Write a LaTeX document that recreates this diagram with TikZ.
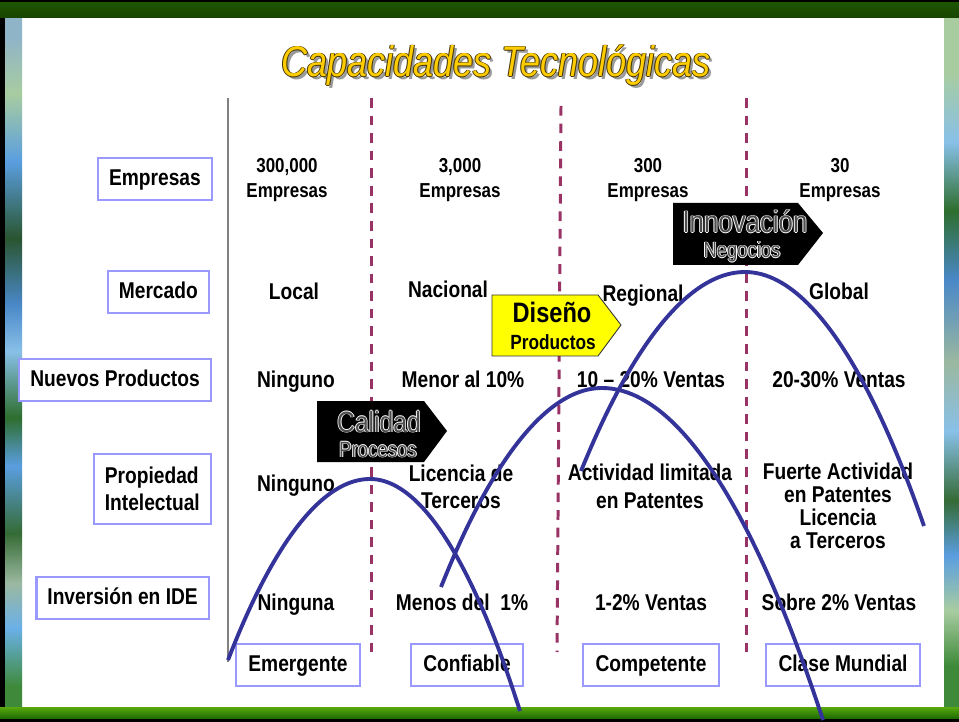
\documentclass[tikz,border=0pt]{standalone}
\usepackage{fontspec}
\setmainfont{Liberation Sans}[FakeStretch=0.84]

\definecolor{curveblue}{HTML}{333399}
\definecolor{dashmaroon}{HTML}{993366}
\definecolor{boxlav}{HTML}{9999FF}
\definecolor{titlegold}{HTML}{FFCC00}
\definecolor{titleshadow}{HTML}{9A9A9A}
\definecolor{tagyellow}{HTML}{FFFF00}
\definecolor{taginner}{HTML}{4D4D4D}
\definecolor{bandgreen}{HTML}{45A010}
\definecolor{banddark}{HTML}{1E5600}
% photo colours
\definecolor{photoA}{HTML}{3E8A3A}
\definecolor{photoB}{HTML}{6AB0E8}
\definecolor{photoC}{HTML}{9BB8A0}
\definecolor{photoD}{HTML}{356B35}
\definecolor{photoE}{HTML}{5A9EE0}
\definecolor{photoF}{HTML}{2E6E2E}
\definecolor{photoG}{HTML}{88C0E8}
\definecolor{photoH}{HTML}{4A88C8}
\definecolor{photoI}{HTML}{2A5530}
\definecolor{photoJ}{HTML}{A8CCA0}
\definecolor{photoK}{HTML}{8FB4C8}

% photo strips at the left and right edge of the slide
\pgfdeclareverticalshading{leftphoto}{100bp}{%
  color(0bp)=(photoA); color(26.5bp)=(photoA); color(30.7bp)=(photoB);
  color(34bp)=(photoC); color(37.6bp)=(photoD); color(42.5bp)=(photoE);
  color(46bp)=(photoF); color(50.8bp)=(photoG); color(54.2bp)=(photoH);
  color(59bp)=(photoI); color(64.6bp)=(photoE); color(69.5bp)=(photoJ);
  color(73.6bp)=(photoK); color(100bp)=(photoK)}
\pgfdeclareverticalshading{rightphoto}{100bp}{%
  color(0bp)=(photoA); color(28bp)=(photoA); color(32bp)=(photoJ);
  color(36bp)=(photoE); color(40bp)=(photoD); color(45bp)=(photoG);
  color(50bp)=(photoC); color(56bp)=(photoH); color(61bp)=(photoF);
  color(66bp)=(photoG); color(71bp)=(photoJ); color(100bp)=(photoJ)}

% text with a thin outline: #1 outline, #2 fill, #3 text
\newcommand{\outlinetext}[3]{\leavevmode
  \rlap{\kern-.5pt\textcolor{#1}{#3}}%
  \rlap{\kern.5pt\textcolor{#1}{#3}}%
  \rlap{\raisebox{.5pt}{\textcolor{#1}{#3}}}%
  \rlap{\raisebox{-.5pt}{\textcolor{#1}{#3}}}%
  \textcolor{#2}{#3}}
% same, with a grey drop shadow
\newcommand{\shadowtext}[3]{\leavevmode
  \rlap{\raisebox{-1.6pt}{\kern1.6pt\textcolor{titleshadow}{#3}}}%
  \outlinetext{#1}{#2}{#3}}

\tikzset{
  labelbox/.style={draw=boxlav, line width=1.4pt, fill=white,
    font=\fontsize{13}{15.3}\selectfont\bfseries, inner xsep=0.22cm,
    minimum height=0.84cm, anchor=east},
  rowlabel/.style={labelbox, text height=0.8em, text depth=0.08em},
  levelbox/.style={rowlabel, anchor=center, inner xsep=0.25cm},
  cell/.style={font=\fontsize{13}{15.3}\selectfont\bfseries, anchor=base,
    align=center, inner sep=0pt},
  firms/.style={cell, font=\fontsize{11.5}{14.7}\selectfont\bfseries},
  divider/.style={dashmaroon, line width=1.7pt, dash pattern=on 5.5pt off 4.5pt},
  capcurve/.style={curveblue, line width=2.2pt},
  tagtext/.style={anchor=base, inner sep=0pt},
}

\begin{document}
\begin{tikzpicture}[x=0.02cm, y=-0.02cm]
  \useasboundingbox (0,0) rectangle (959,722);

  % Slide frame
  \fill[white] (0,0) rectangle (959,722);
  \shade[shading=leftphoto] (5,18) rectangle (22,707);
  \shade[shading=rightphoto] (944,18) rectangle (959,707);
  \fill[black] (0,0) rectangle (5,722);
  \shade[top color=banddark, middle color=bandgreen, bottom color=banddark!80!black]
    (0,2) rectangle (959,18);
  \fill[black] (0,0) rectangle (959,2);
  \shade[top color=bandgreen!90!yellow, bottom color=banddark!90!green]
    (0,707) rectangle (959,719);
  \fill[black] (0,719) rectangle (959,722);

  % Title
  \node[tagtext, font=\fontsize{24.4}{28}\selectfont\itshape] (title) at (496,77)
    {\shadowtext{black!75!titlegold}{titlegold}{Capacidades Tecnológicas}};

  % Column dividers
  \draw[gray, line width=0.8pt] (228,98) -- (228,662);
  \draw[divider] (371,98) -- (371,652);
  \draw[divider] (561,106) -- (557,652);
  \draw[divider] (746,98) -- (746,656);

  % Row labels
  \node[rowlabel] (empresas) at (213,179) {Empresas};
  \node[rowlabel] (mercado) at (210,292) {Mercado};
  \node[rowlabel] (nuevos) at (212,380) {Nuevos Productos};
  \node[labelbox, align=left, minimum height=1.4cm] (propiedad) at (212,489)
    {Propiedad\\Intelectual};
  \node[rowlabel] (inversion) at (210,598) {Inversión en IDE};

  % Row: Empresas
  \node[firms] (emp1) at (287,198) {300,000\\Empresas};
  \node[firms] (emp2) at (460,198) {3,000\\Empresas};
  \node[firms] (emp3) at (648,198) {300\\Empresas};
  \node[firms] (emp4) at (840,198) {30\\Empresas};

  % Row: Mercado
  \node[cell] (mer1) at (294,300) {Local};
  \node[cell] (mer2) at (448,298) {Nacional};
  \node[cell] (mer3) at (643,302) {Regional};
  \node[cell] (mer4) at (839,300) {Global};

  % Row: Nuevos Productos
  \node[cell] (nue1) at (296,387) {Ninguno};
  \node[cell] (nue2) at (463,387) {Menor al 10\%};
  \node[cell] (nue3) at (651,387) {10 – 20\% Ventas};
  \node[cell] (nue4) at (839,387) {20-30\% Ventas};

  % Row: Propiedad Intelectual
  \node[cell] (pro1) at (296,491) {Ninguno};
  \node[cell] (pro2) at (461,508) {Licencia de\\Terceros};
  \node[cell, font=\fontsize{13}{15.9}\selectfont\bfseries] (pro3) at (650,508)
    {Actividad limitada\\en Patentes};
  \node[cell, font=\fontsize{13}{13}\selectfont\bfseries] (pro4) at (838,548)
    {Fuerte Actividad\\en Patentes\\Licencia\\a Terceros};

  % Row: Inversion en IDE
  \node[cell] (ide1) at (296,610) {Ninguna};
  \node[cell] (ide2) at (462,610) {Menos del\ \ 1\%};
  \node[cell] (ide3) at (651,610) {1-2\% Ventas};
  \node[cell] (ide4) at (839,610) {Sobre 2\% Ventas};

  % Capability levels
  \node[levelbox] (emergente) at (298,665) {Emergente};
  \node[levelbox] (confiable) at (467,665) {Confiable};
  \node[levelbox] (competente) at (651,665) {Competente};
  \node[levelbox] (mundial) at (843,665) {Clase Mundial};

  % Tags
  \fill[black] (317,401) -- (424,401) -- (447,431) -- (424,462) -- (317,462) -- cycle;
  \node[tagtext, font=\fontsize{16.7}{18}\selectfont] (calidad) at (379,432)
    {\outlinetext{white}{taginner}{Calidad}};
  \node[tagtext, font=\fontsize{12.6}{14}\selectfont] (procesos) at (378,457)
    {\outlinetext{white}{taginner}{Procesos}};

  \filldraw[fill=tagyellow, draw=black!80, line width=0.5pt]
    (492,295) -- (598,295) -- (621,325) -- (598,356) -- (492,356) -- cycle;
  \node[tagtext, font=\fontsize{16}{18}\selectfont\bfseries] (diseno) at (552,323) {Diseño};
  \node[tagtext, font=\fontsize{11.7}{14}\selectfont\bfseries] (productos) at (553,350) {Productos};

  \fill[black] (673,203) -- (798,203) -- (823,233) -- (798,265) -- (673,265) -- cycle;
  \node[tagtext, font=\fontsize{17.5}{19}\selectfont] (innovacion) at (745,233)
    {\outlinetext{white}{taginner}{Innovación}};
  \node[tagtext, font=\fontsize{12.5}{14}\selectfont] (negocios) at (742,258)
    {\outlinetext{white}{taginner}{Negocios}};

  % Capability curves
  \coordinate (calA) at (228,660);
  \coordinate (calB) at (370,479);
  \coordinate (calC) at (520,711);
  \draw[capcurve] (calA) parabola bend (calB) (calC);

  \coordinate (disA) at (441,587);
  \coordinate (disB) at (602,388);
  \coordinate (disC) at (823,720);
  \draw[capcurve] (disA) parabola bend (disB) (disC);

  \coordinate (innA) at (581,471);
  \coordinate (innB) at (745,272);
  \coordinate (innC) at (924,526);
  \draw[capcurve] (innA) parabola bend (innB) (innC);
\end{tikzpicture}
\end{document}
